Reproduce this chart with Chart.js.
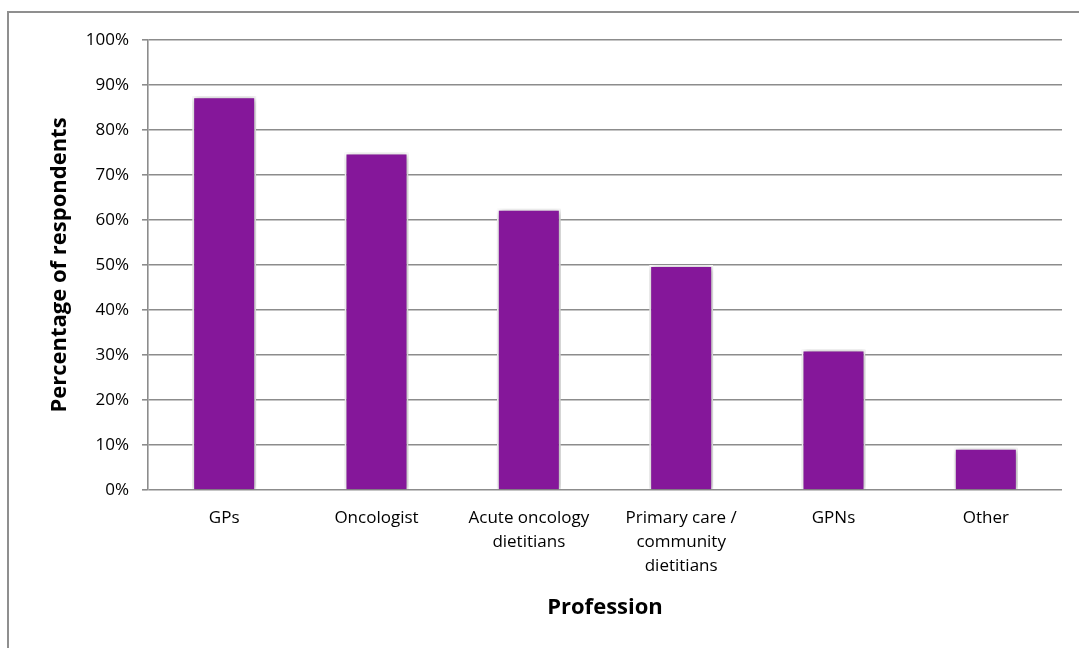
<!DOCTYPE html>
<html>
<head>
<meta charset="utf-8">
<title>Profession chart</title>
<script src="https://cdn.jsdelivr.net/npm/chart.js@4.4.0/dist/chart.umd.min.js"></script>
<style>
  html, body { margin: 0; padding: 0; background: #fff; overflow: hidden; }
  #wrap { position: relative; width: 1079px; height: 648px; }
  #frame {
    position: absolute; left: 7px; top: 11px; width: 2000px; height: 2000px;
    border-top: 2px solid #8f8f8f; border-left: 2px solid #8f8f8f;
    pointer-events: none;
  }
  #myBarChart { position: absolute; left: 0; top: 0; }
</style>
</head>
<body>
<div id="wrap">
  <div id="frame"></div>
  <canvas id="myBarChart" width="1079" height="648"></canvas>
</div>
<script>
var professions = ['GPs', 'Oncologist', ['Acute oncology', 'dietitians'], ['Primary care /', 'community', 'dietitians'], 'GPNs', 'Other'];
var percentRespondents = [87.5, 75, 62.5, 50, 31.25, 9.4];
var yTicks = [0, 10, 20, 30, 40, 50, 60, 70, 80, 90, 100];

var gridGrey = '#8c8c8c';
var fontFamily = '"Open Sans", "Noto Sans", sans-serif';

// soft shadow behind the bars, like the office chart
var barShadow = {
  id: 'barShadow',
  beforeDatasetDraw: function (chart) {
    var ctx = chart.ctx;
    ctx.save();
    ctx.shadowColor = 'rgba(0,0,0,0.4)';
    ctx.shadowBlur = 6;
    ctx.shadowOffsetX = 1;
    ctx.shadowOffsetY = 1;
  },
  afterDatasetDraw: function (chart) {
    chart.ctx.restore();
  }
};

function renderProfessionChart() {
  var ctx = document.getElementById('myBarChart').getContext('2d');
  new Chart(ctx, {
    type: 'bar',
    data: {
      labels: professions,
      datasets: [{
        label: 'Percentage of respondents',
        data: percentRespondents,
        backgroundColor: '#85179A',
        borderColor: '#ffffff',
        borderWidth: 2,
        barPercentage: 0.42,
        categoryPercentage: 1
      }]
    },
    plugins: [barShadow],
    options: {
      responsive: false,
      animation: false,
      layout: {
        padding: { left: 47, right: 17, top: 40, bottom: 0 }
      },
      plugins: {
        legend: { display: false },
        tooltip: { enabled: false }
      },
      scales: {
        x: {
          grid: { display: false, drawTicks: false },
          border: { display: false },
          ticks: {
            color: '#000',
            padding: 16,
            maxRotation: 0,
            autoSkip: false,
            font: { family: fontFamily, size: 17, lineHeight: 1.42 }
          },
          title: {
            display: true,
            text: 'Profession',
            color: '#000',
            padding: { top: 0, bottom: 27 },
            font: { family: fontFamily, size: 22, weight: 'bold', lineHeight: 1.2 }
          },
          afterFit: function (scale) { scale.height = 158; }
        },
        y: {
          min: 0,
          max: 100,
          afterBuildTicks: function (scale) {
            scale.ticks = yTicks.map(function (v) { return { value: v }; });
          },
          grid: {
            color: gridGrey,
            lineWidth: 1.6,
            tickLength: 6,
            tickColor: gridGrey
          },
          border: { display: true, color: gridGrey, width: 1.6 },
          ticks: {
            color: '#000',
            padding: 13,
            font: { family: fontFamily, size: 17 },
            callback: function (v) { return v + '%'; }
          },
          title: {
            display: true,
            text: 'Percentage of respondents',
            color: '#000',
            padding: { top: 0, bottom: 0 },
            font: { family: fontFamily, size: 22, weight: 'bold', lineHeight: 1.2 }
          },
          afterFit: function (scale) { scale.width = 101; }
        }
      }
    }
  });
}

renderProfessionChart();
</script>
</body>
</html>
